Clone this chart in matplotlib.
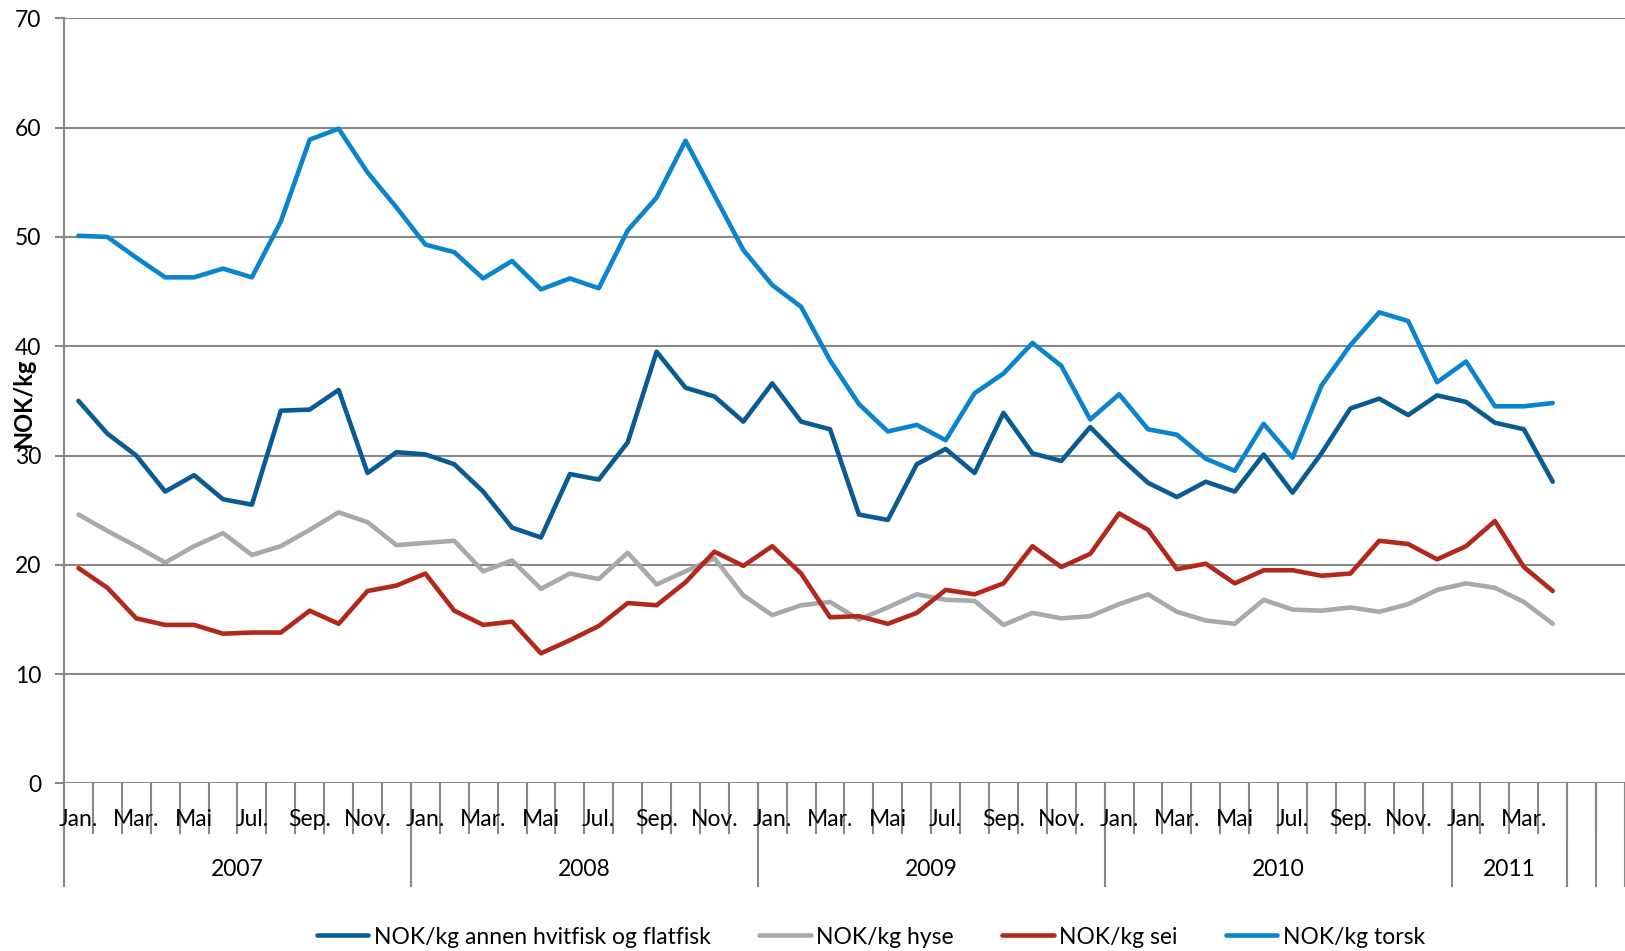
# NOK/kg per month for whitefish species, Jan 2007 - Apr 2011
import matplotlib.pyplot as plt
import numpy as np

plt.rcParams['font.family'] = ['Lato', 'DejaVu Sans']

# -- data --
months = ["Jan.", "Feb.", "Mar.", "Apr.", "Mai", "Jun.",
          "Jul.", "Aug.", "Sep.", "Okt.", "Nov.", "Des."]
years = ["2007", "2008", "2009", "2010", "2011"]
months_per_year = [12, 12, 12, 12, 4]
n_empty = 2  # empty categories at the end of the axis

annen = [35.0, 32.0, 30.0, 26.7, 28.2, 26.0, 25.5, 34.1, 34.2, 36.0,
         28.4, 30.3, 30.1, 29.2, 26.7, 23.4, 22.5, 28.3, 27.8, 31.2,
         39.5, 36.2, 35.4, 33.1, 36.6, 33.1, 32.4, 24.6, 24.1, 29.2,
         30.6, 28.4, 33.9, 30.2, 29.5, 32.6, 29.9, 27.5, 26.2, 27.6,
         26.7, 30.1, 26.6, 30.2, 34.3, 35.2, 33.7, 35.5, 34.9, 33.0,
         32.4, 27.6]
hyse = [24.6, 23.1, 21.7, 20.2, 21.7, 22.9, 20.9, 21.7, 23.2, 24.8,
        23.9, 21.8, 22.0, 22.2, 19.4, 20.4, 17.8, 19.2, 18.7, 21.1,
        18.2, 19.4, 20.6, 17.2, 15.4, 16.3, 16.6, 15.0, 16.1, 17.3,
        16.8, 16.7, 14.5, 15.6, 15.1, 15.3, 16.4, 17.3, 15.7, 14.9,
        14.6, 16.8, 15.9, 15.8, 16.1, 15.7, 16.4, 17.7, 18.3, 17.9,
        16.6, 14.6]
sei = [19.7, 17.9, 15.1, 14.5, 14.5, 13.7, 13.8, 13.8, 15.8, 14.6,
       17.6, 18.1, 19.2, 15.8, 14.5, 14.8, 11.9, 13.1, 14.4, 16.5,
       16.3, 18.4, 21.2, 19.9, 21.7, 19.2, 15.2, 15.3, 14.6, 15.6,
       17.7, 17.3, 18.3, 21.7, 19.8, 21.0, 24.7, 23.2, 19.6, 20.1,
       18.3, 19.5, 19.5, 19.0, 19.2, 22.2, 21.9, 20.5, 21.7, 24.0,
       19.8, 17.6]
torsk = [50.1, 50.0, 48.1, 46.3, 46.3, 47.1, 46.3, 51.4, 58.9, 59.9,
         55.9, 52.7, 49.3, 48.6, 46.2, 47.8, 45.2, 46.2, 45.3, 50.6,
         53.6, 58.8, 53.8, 48.8, 45.6, 43.6, 38.7, 34.7, 32.2, 32.8,
         31.4, 35.7, 37.5, 40.3, 38.2, 33.3, 35.6, 32.4, 31.9, 29.7,
         28.6, 32.9, 29.8, 36.4, 40.1, 43.1, 42.3, 36.7, 38.6, 34.5,
         34.5, 34.8]

labels = ["NOK/kg annen hvitfisk og flatfisk", "NOK/kg hyse",
          "NOK/kg sei", "NOK/kg torsk"]
colors = ["#0B5B93", "#A8A9AD", "#B3281C", "#0A84CC"]

grid_c = "#888888"
fs = 16.5

fig = plt.figure(figsize=(16.25, 9.51), dpi=100)
ax = fig.add_axes([64/1625, 1-783.4/951, 1-64/1625, (783.4-18.3)/951])

x = np.arange(len(torsk))
for s, lab, c in zip([annen, hyse, sei, torsk], labels, colors):
    ax.plot(x, s, color=c, lw=3.3, label=lab,
            solid_joinstyle='round', solid_capstyle='round')

n_cat = sum(months_per_year) + n_empty
ax.set_xlim(-0.5, n_cat - 0.5)
ax.set_ylim(0, 70)
ax.set_yticks(np.arange(0, 71, 10))
ax.yaxis.grid(True, color=grid_c, lw=1.5)
ax.set_axisbelow(True)
ax.set_xticks([])
for sp in ['top', 'right', 'bottom']:
    ax.spines[sp].set_visible(False)
ax.spines['left'].set_color(grid_c)
ax.spines['left'].set_linewidth(1.5)
ax.tick_params(axis='y', length=6.5, width=1.5, color=grid_c,
               labelsize=fs, pad=10)

# -- two level category axis --
tr = ax.get_xaxis_transform()
h_month = 50 / 765.1
h_year = 103 / 765.1
for k in range(n_cat + 1):
    ax.plot([k - 0.5, k - 0.5], [0, -h_month], transform=tr, color=grid_c,
            lw=1.5, clip_on=False)

start = 0
bounds = [0]
for n in months_per_year:
    start += n
    bounds.append(start)
bounds += [start + i + 1 for i in range(n_empty)]
for b in bounds:
    ax.plot([b - 0.5, b - 0.5], [0, -h_year], transform=tr, color=grid_c,
            lw=1.5, clip_on=False)

i = 0
for yr, n in zip(years, months_per_year):
    for m in range(n):
        if m % 2 == 0:
            ax.text(i + m, -36/765.1, months[m], transform=tr, ha='center',
                    va='center', fontsize=fs)
    ax.text(i + (n - 1) / 2, -86/765.1, yr, transform=tr, ha='center',
            va='center', fontsize=fs)
    i += n

fig.text(24/1625, 1-403/951, "NOK/kg", rotation=90, ha='center',
         va='center', fontsize=17, fontweight='bold')

fig.legend(loc='center', bbox_to_anchor=(871/1625, 1-937/951), ncol=4,
           frameon=False, fontsize=fs, handlelength=2.25, handletextpad=0.25,
           columnspacing=2.1)

fig.savefig("out.png", dpi=100)
